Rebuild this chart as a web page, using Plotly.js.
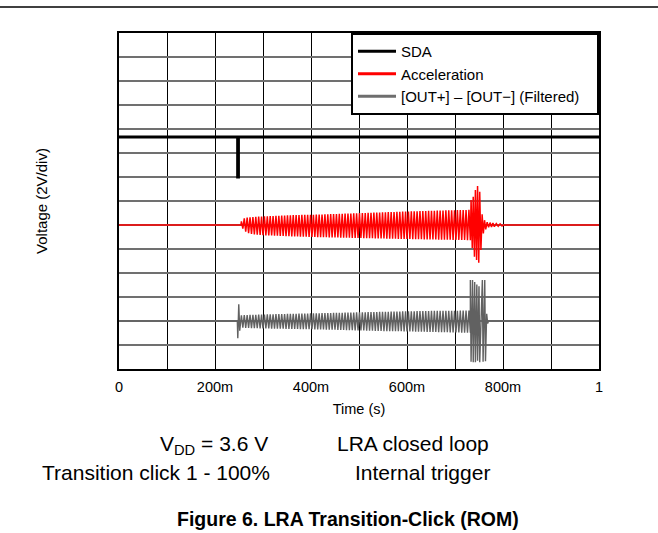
<!DOCTYPE html>
<html>
<head>
<meta charset="utf-8">
<script src="https://cdn.plot.ly/plotly-3.0.1.min.js"></script>
<style>html,body{margin:0;padding:0;background:#fff;}#chart{width:658px;height:533px;}</style>
</head>
<body>
<div id="chart"></div>
<script>
// ---- Data (time in s, voltage in divisions of 2 V) ----
var tickVals = [0,0.2,0.4,0.6,0.8,1];
var tickText = ['0','200m','400m','600m','800m','1'];
var minorGridVals = [0.1,0.3,0.5,0.7,0.9];
var yDivs = [0,1,2,3,4,5,6,7,8,9,10,11,12,13,14];
var seriesNames = ['SDA', 'Acceleration', '[OUT+] \u2013 [OUT\u2212] (Filtered)'];

// SDA trace
var sdaT = [0, 0.2472, 0.2472, 0.2488, 0.2488, 1];
var sdaV = [9.67, 9.67, 8.0, 8.0, 9.67, 9.67];

// Baselines
var accBase = 6;
var outBase = 2;

// Drive cycle start times (s)
var cycleT = [0.255,0.261,0.267,0.273,0.279,0.285,0.291,0.297,0.303,0.309,
0.315,0.321,0.327,0.333,0.339,0.345,0.351,0.357,0.363,0.369,
0.375,0.381,0.387,0.393,0.399,0.405,0.411,0.417,0.423,0.429,
0.435,0.441,0.447,0.453,0.459,0.465,0.471,0.477,0.483,0.489,
0.495,0.501,0.507,0.513,0.519,0.525,0.531,0.537,0.543,0.549,
0.555,0.561,0.567,0.573,0.579,0.585,0.591,0.597,0.603,0.609,
0.615,0.621,0.627,0.633,0.639,0.645,0.651,0.657,0.663,0.669,
0.675,0.681,0.687,0.693,0.699,0.705,0.711,0.717,0.723,0.729];

// Acceleration: positive and negative peak per cycle (div)
var accHi = [0.15,0.28,0.31,0.32,0.33,0.34,0.35,0.35,0.36,0.36,
0.37,0.37,0.38,0.38,0.39,0.39,0.40,0.40,0.41,0.41,
0.41,0.42,0.42,0.42,0.43,0.43,0.44,0.44,0.44,0.45,
0.45,0.46,0.46,0.46,0.47,0.47,0.48,0.48,0.48,0.49,
0.49,0.50,0.50,0.50,0.51,0.51,0.52,0.52,0.52,0.53,
0.53,0.54,0.54,0.54,0.55,0.55,0.56,0.56,0.56,0.57,
0.57,0.57,0.58,0.58,0.58,0.59,0.59,0.59,0.60,0.60,
0.60,0.61,0.61,0.61,0.61,0.62,0.62,0.62,0.62,0.63];
var accLo = [0.15,0.28,0.34,0.37,0.39,0.40,0.41,0.42,0.43,0.44,
0.44,0.45,0.45,0.46,0.46,0.47,0.47,0.48,0.48,0.48,
0.49,0.49,0.49,0.50,0.50,0.50,0.51,0.51,0.51,0.51,
0.52,0.52,0.52,0.52,0.53,0.53,0.53,0.53,0.54,0.54,
0.54,0.54,0.55,0.55,0.55,0.55,0.56,0.56,0.56,0.56,
0.57,0.57,0.57,0.57,0.58,0.58,0.58,0.58,0.58,0.59,
0.59,0.59,0.59,0.60,0.60,0.60,0.60,0.60,0.61,0.61,
0.61,0.61,0.61,0.62,0.62,0.62,0.62,0.62,0.63,0.63];
// Acceleration braking burst and ring-down (explicit peaks)
var accBurstT = [0.7335,0.736,0.738,0.7405,0.7425,0.745,0.747,0.7495,0.7515,0.754,0.7565,0.759,0.7615,0.764,0.767,0.770,0.773,0.776,0.779,0.782,0.786,0.790,0.794,0.798];
var accBurstV = [1.04,-0.96,1.18,-1.32,1.46,-1.46,1.62,-1.57,1.38,-1.04,0.45,-0.35,0.20,-0.18,0.12,-0.10,0.10,-0.08,0.08,-0.07,0.06,-0.05,0.05,-0.04];

// [OUT+] - [OUT-] (filtered)
var outSpikeT = [0.2475,0.2495,0.2515];
var outSpikeV = [-0.72,0.70,-0.40];
var outHi = [0.24,0.25,0.25,0.26,0.26,0.26,0.27,0.27,0.27,0.28,
0.28,0.28,0.29,0.29,0.29,0.29,0.30,0.30,0.30,0.30,
0.31,0.31,0.31,0.31,0.32,0.32,0.32,0.32,0.33,0.33,
0.33,0.33,0.34,0.34,0.34,0.34,0.35,0.35,0.35,0.35,
0.36,0.36,0.36,0.36,0.37,0.37,0.37,0.37,0.38,0.38,
0.38,0.38,0.39,0.39,0.39,0.39,0.40,0.40,0.40,0.40,
0.40,0.41,0.41,0.41,0.41,0.41,0.42,0.42,0.42,0.42,
0.42,0.43,0.43,0.43,0.43,0.43,0.44,0.44,0.44,0.44];
var outLo = [0.28,0.29,0.29,0.30,0.30,0.30,0.31,0.31,0.31,0.31,
0.32,0.32,0.32,0.32,0.32,0.33,0.33,0.33,0.33,0.33,
0.34,0.34,0.34,0.34,0.34,0.35,0.35,0.35,0.35,0.36,
0.36,0.36,0.36,0.37,0.37,0.37,0.38,0.38,0.38,0.39,
0.39,0.39,0.39,0.40,0.40,0.40,0.41,0.41,0.41,0.42,
0.42,0.42,0.42,0.43,0.43,0.43,0.44,0.44,0.44,0.44,
0.45,0.45,0.45,0.45,0.46,0.46,0.46,0.46,0.47,0.47,
0.47,0.47,0.48,0.48,0.48,0.48,0.49,0.49,0.49,0.49];
var outBurstT = [0.732,0.7335,0.7365,0.738,0.741,0.7425,0.7455,0.747,0.750,0.7515,0.757,0.7585,0.762,0.7635,0.766,0.768];
var outBurstV = [1.71,-1.70,1.71,-1.72,1.62,-1.72,1.52,-1.66,1.45,-1.72,1.71,-1.70,1.71,-1.68,0.30,-0.10];

// ---- Build sample sequences from the arrays ----
function buildWave(base, startT, preT, preV, hi, lo, halfStep, burstT, burstV, endT) {
  var x = [0, startT], y = [base, base];
  for (var i = 0; i < preT.length; i++) { x.push(preT[i]); y.push(base + preV[i]); }
  for (var j = 0; j < cycleT.length; j++) {
    x.push(cycleT[j]); y.push(base + hi[j]);
    x.push(cycleT[j] + halfStep); y.push(base - lo[j]);
  }
  for (var k = 0; k < burstT.length; k++) { x.push(burstT[k]); y.push(base + burstV[k]); }
  x.push(endT); y.push(base);
  x.push(1); y.push(base);
  return {x: x, y: y};
}
var acc = buildWave(accBase, 0.254, [], [], accHi, accLo, 0.003, accBurstT, accBurstV, 0.801);
var out = buildWave(outBase, 0.2465, outSpikeT, outSpikeV, outHi, outLo, 0.003, outBurstT, outBurstV, 0.770);

var FONT = 'Liberation Sans, Arial, Helvetica, sans-serif';
var PAD = '\u00a0\u00a0\u00a0'; // widens the legend box to match the reference
var traces = [
  {x: out.x, y: out.y, mode: 'lines', line: {color: '#616161', width: 1.4}, showlegend: false, hoverinfo: 'skip'},
  {x: acc.x, y: acc.y, mode: 'lines', line: {color: '#ff0000', width: 1.5}, showlegend: false, hoverinfo: 'skip'},
  {x: sdaT, y: sdaV, mode: 'lines', line: {color: '#000000', width: 3}, showlegend: false, hoverinfo: 'skip'},
  // legend entries
  {x: [null], y: [null], mode: 'lines', name: seriesNames[0], line: {color: '#000000', width: 3}},
  {x: [null], y: [null], mode: 'lines', name: seriesNames[1], line: {color: '#ff0000', width: 3}},
  {x: [null], y: [null], mode: 'lines', name: seriesNames[2] + PAD, line: {color: '#6e6e6e', width: 3}}
];

var layout = {
  width: 658, height: 533,
  margin: {l: 119, r: 59, t: 33, b: 164},
  paper_bgcolor: '#ffffff', plot_bgcolor: '#ffffff',
  font: {family: FONT, color: '#000', size: 15},
  showlegend: true,
  legend: {x: 1, xanchor: 'right', y: 1, yanchor: 'top', bgcolor: '#ffffff', bordercolor: '#000', borderwidth: 2,
           itemwidth: 38,
           font: {family: FONT, size: 15, color: '#000'}, tracegroupgap: 0, traceorder: 'normal'},
  xaxis: {range: [0, 1], tickvals: tickVals, ticktext: tickText, ticks: '', ticklabelstandoff: 4,
          showgrid: true, gridcolor: '#000', gridwidth: 1, zeroline: false,
          minor: {tickvals: minorGridVals, showgrid: true, gridcolor: '#000', gridwidth: 1, ticks: ''},
          showline: true, mirror: true, linecolor: '#000', linewidth: 2,
          tickfont: {family: FONT, size: 14.5, color: '#000'},
          title: {text: 'Time (s)', font: {family: FONT, size: 14.5, color: '#000'}, standoff: 9}},
  yaxis: {range: [0, 14], tickvals: yDivs, showticklabels: false, ticks: '',
          showgrid: true, gridcolor: '#707070', gridwidth: 1.5, zeroline: false,
          showline: true, mirror: true, linecolor: '#000', linewidth: 2,
          title: {text: 'Voltage (2V/div)', font: {family: FONT, size: 15, color: '#000'}, standoff: 66}},
  shapes: [
    {type: 'line', xref: 'paper', yref: 'paper', x0: -0.25, x1: 1.13, y0: 1.0774, y1: 1.0774, line: {color: '#000', width: 1.3}}
  ],
  annotations: [
    {xref: 'paper', yref: 'paper', x: 0.198, y: -0.225, xanchor: 'center', yanchor: 'middle', showarrow: false,
     text: 'V<sub>DD</sub> = 3.6 V', font: {family: FONT, size: 21, color: '#000'}},
    {xref: 'paper', yref: 'paper', x: 0.6125, y: -0.222, xanchor: 'center', yanchor: 'middle', showarrow: false,
     text: 'LRA closed loop', font: {family: FONT, size: 21, color: '#000'}},
    {xref: 'paper', yref: 'paper', x: 0.077, y: -0.3095, xanchor: 'center', yanchor: 'middle', showarrow: false,
     text: 'Transition click 1 - 100%', font: {family: FONT, size: 21, color: '#000'}},
    {xref: 'paper', yref: 'paper', x: 0.633, y: -0.3095, xanchor: 'center', yanchor: 'middle', showarrow: false,
     text: 'Internal trigger', font: {family: FONT, size: 21, color: '#000'}},
    {xref: 'paper', yref: 'paper', x: 0.477, y: -0.446, xanchor: 'center', yanchor: 'middle', showarrow: false,
     text: '<b>Figure 6. LRA Transition-Click (ROM)</b>', font: {family: FONT, size: 19.5, color: '#000'}}
  ]
};

Plotly.newPlot('chart', traces, layout, {staticPlot: true, displayModeBar: false});
</script>
</body>
</html>
